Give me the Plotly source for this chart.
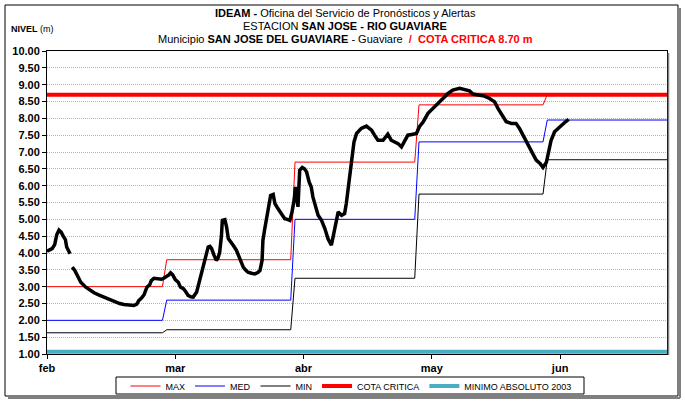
import plotly.graph_objects as go

# Monthly reference levels (m); each level applies from its period's first day
period_start = [0, 28, 58, 87, 117]
level_max = [3.00, 3.80, 6.70, 8.40, 8.70]
level_med = [2.00, 2.60, 5.00, 7.30, 7.95]
level_min = [1.63, 1.72, 3.25, 5.75, 6.77]

cota_critica = 8.70
minimo_absoluto_2003 = 1.07

# Observed water level, x in days counted from 1 February; None = missing reading
nivel_day = [
    0, 0.6, 1.2, 1.8, 2.3, 2.8, 3.3, 3.8, 4.3, 4.6, 5.0, 5.4, 5.6,
    5.9, 6.5, 7.1, 7.9, 9.0, 10, 11, 12.2, 13.3, 14.5, 15.7, 17, 18, 19.2, 20.3,
    21, 21.5, 22.1, 22.7, 23.1, 23.4, 24, 24.4, 25, 25.6, 26.2, 26.8, 27.3, 28,
    28.5, 28.9, 29.4, 30, 30.7, 31.2, 31.9, 32.5, 33, 33.6, 34.2, 35, 35.4, 36.1,
    36.5, 36.9, 37.3, 37.7, 38.1, 38.5, 39, 39.3, 39.6, 40, 40.4, 40.8, 41, 41.6,
    42, 42.4, 43.1, 43.7, 44.3, 45.1, 45.9, 46.4, 47, 47.8, 48.6, 49.3, 49.8,
    50.3, 50.5, 50.9, 51.3, 51.7, 52.3, 52.9, 53.3, 54, 54.8, 55.6, 56.2, 56.8,
    57.3, 57.8, 58.1, 58.4, 58.7, 59.1, 59.7, 60.2, 60.7, 61.3, 61.8, 62.2, 62.9,
    63.4, 64.2, 65, 65.7, 66.5, 66.9, 67.7, 68.1, 68.9, 69.6, 70, 70.6, 71.2,
    71.6, 71.8, 72.4, 73.5, 74.7, 75.9, 76.6, 77.4, 78.6, 79.7, 80.5, 81.3, 82.1,
    82.9, 83.6, 84.4, 85.6, 86.4, 87.1, 88, 89.1, 90.3, 91.4, 92.6, 93.8, 94.9,
    96.5, 97.7, 98.8, 99.6, 100.8, 102.3, 103.5, 104.7, 105.5, 106.2, 107.4,
    108.6, 109.7, 110.5, 111.3, 112.1, 112.9, 113.6, 114.4, 115.3, 116, 116.8,
    117.5, 117.9, 118.7, 119.9, 121, 122,
]
nivel_m = [
    4.05, 4.08, 4.13, 4.25, 4.55, 4.68, 4.62, 4.50, 4.40, 4.18, 4.08, 3.98, None,
    3.58, 3.48, 3.33, 3.13, 2.99, 2.90, 2.82, 2.75, 2.69, 2.62, 2.56, 2.50, 2.47, 2.45, 2.44,
    2.48, 2.59, 2.66, 2.76, 2.90, 2.99, 3.05, 3.18, 3.25, 3.24, 3.24, 3.22, 3.25, 3.30,
    3.35, 3.41, 3.35, 3.21, 3.13, 2.99, 2.94, 2.84, 2.74, 2.70, 2.69, 2.84, 3.04, 3.33,
    3.55, 3.78, 4.00, 4.18, 4.20, 4.13, 3.95, 3.88, 3.78, 3.85, 4.03, 4.52, 4.97, 4.99,
    4.77, 4.43, 4.28, 4.20, 4.08, 3.83, 3.58, 3.50, 3.43, 3.40, 3.38, 3.42, 3.48,
    3.78, 4.38, 4.70, 4.97, 5.32, 5.71, 5.74, 5.47, 5.32, 5.17, 5.02, 5.00, 4.97,
    5.22, 5.57, 5.96, 5.60, 5.37, 6.46, 6.54, 6.50, 6.41, 6.11, 5.96, 5.66, 5.37,
    5.12, 4.97, 4.72, 4.43, 4.23, 4.47, 4.97, 5.22, 5.12, 5.17, 5.47, 6.06, 6.51,
    6.96, 7.30, 7.55, 7.70, 7.77, 7.65, 7.50, 7.35, 7.35, 7.53, 7.35, 7.30, 7.25,
    7.15, 7.30, 7.50, 7.53, 7.55, 7.75, 7.90, 8.15, 8.29, 8.44, 8.59, 8.74, 8.84,
    8.89, 8.86, 8.82, 8.72, 8.69, 8.66, 8.59, 8.49, 8.29, 8.15, 7.90,
    7.85, 7.85, 7.70, 7.50, 7.30, 7.10, 6.96, 6.76, 6.66, 6.54, 6.70,
    7.05, 7.35, 7.60, 7.75, 7.87, 7.97,
]

month_ticks = [0, 30, 60, 90, 120]
month_labels = ["feb", "mar", "abr", "may", "jun"]
last_day = 145

FONT = "Liberation Sans, Arial, sans-serif"

days = list(range(last_day + 1))


def daily_steps(levels):
    out = []
    for d in days:
        k = max(i for i, s in enumerate(period_start) if s <= d)
        out.append(levels[k])
    return out


fig = go.Figure()
fig.add_trace(go.Scatter(x=days, y=daily_steps(level_max), mode="lines", name="MAX",
                         line=dict(color="#FF0000", width=1)))
fig.add_trace(go.Scatter(x=days, y=daily_steps(level_med), mode="lines", name="MED",
                         line=dict(color="#0000FF", width=1)))
fig.add_trace(go.Scatter(x=days, y=daily_steps(level_min), mode="lines", name="MIN",
                         line=dict(color="#000000", width=1)))
fig.add_trace(go.Scatter(x=[0, last_day], y=[cota_critica] * 2, mode="lines",
                         name="COTA CRITICA", line=dict(color="#FF0000", width=4)))
fig.add_trace(go.Scatter(x=[0, last_day], y=[minimo_absoluto_2003] * 2, mode="lines",
                         name="MINIMO ABSOLUTO 2003", line=dict(color="#4BACC6", width=4)))
fig.add_trace(go.Scatter(x=nivel_day, y=nivel_m, mode="lines", name="NIVEL",
                         showlegend=False, connectgaps=False,
                         line=dict(color="#000000", width=3.5)))

# pixel geometry of the plot area
L, R, T, B = 47, 667, 51, 354
W, H = 685, 401


def px(xp):
    return (xp - L) / (R - L)


def py(yp):
    return (B - yp) / (B - T)


title_lines = [
    (13, "<b>IDEAM -</b> Oficina del Servicio de Pronósticos y Alertas"),
    (26, "ESTACION <b>SAN JOSE - RIO GUAVIARE</b>"),
    (39, "Municipio <b>SAN JOSE DEL GUAVIARE</b> - Guaviare  "
         "<span style='color:#FF0000'><b>/  COTA CRITICA 8.70 m</b></span>"),
]
annotations = [
    dict(x=px(345), y=py(yy), xref="paper", yref="paper", text=t, showarrow=False,
         xanchor="center", yanchor="middle",
         font=dict(family=FONT, size=11, color="#000000"))
    for yy, t in title_lines
]
annotations.append(dict(x=px(9), y=py(29), xref="paper", yref="paper",
                        text="<b>NIVEL</b> (m)", showarrow=False, xanchor="left",
                        yanchor="middle", font=dict(family=FONT, size=9, color="#000000")))

shapes = [
    # chart frame with a soft shadow on the right and bottom
    dict(type="rect", xref="paper", yref="paper", x0=px(5), x1=px(678), y0=py(396), y1=py(5),
         line=dict(color="#000000", width=1), layer="below"),
    dict(type="line", xref="paper", yref="paper", x0=px(680), x1=px(680), y0=py(398), y1=py(8),
         line=dict(color="#808080", width=2)),
    dict(type="line", xref="paper", yref="paper", x0=px(8), x1=px(680), y0=py(398), y1=py(398),
         line=dict(color="#808080", width=2)),
    # plot-area shadow on the right edge
    dict(type="line", xref="paper", yref="paper", x0=px(668.5), x1=px(668.5), y0=py(355), y1=py(53),
         line=dict(color="#808080", width=1.5)),
    # legend box
    dict(type="rect", xref="paper", yref="paper", x0=px(116), x1=px(584), y0=py(394), y1=py(377),
         line=dict(color="#000000", width=1), fillcolor="rgba(0,0,0,0)"),
]

fig.update_layout(
    width=W, height=H,
    margin=dict(l=L, r=W - R, t=T, b=H - B, autoexpand=False),
    paper_bgcolor="#FFFFFF", plot_bgcolor="#FFFFFF",
    font=dict(family=FONT, size=10, color="#000000"),
    showlegend=True,
    legend=dict(orientation="h", x=px(351), xanchor="center", y=py(371.5), yanchor="top",
                borderwidth=0, bgcolor="rgba(0,0,0,0)",
                font=dict(family=FONT, size=9, color="#000000"),
                itemwidth=30, tracegroupgap=0),
    annotations=annotations,
    shapes=shapes,
)

fig.update_xaxes(
    range=[0, last_day], tickmode="array", tickvals=month_ticks, ticktext=month_labels,
    showgrid=False, zeroline=False, showline=True, linecolor="#000000", linewidth=1,
    mirror=True, ticks="outside", ticklen=4, tickcolor="#000000",
    tickfont=dict(family=FONT, size=11, color="#000000", weight="bold"),
)
fig.update_yaxes(
    range=[1, 10], tick0=1, dtick=0.5, tickformat=".2f",
    showgrid=True, gridcolor="#B4B4B4", griddash="1px,1px", gridwidth=1,
    zeroline=False, showline=True, linecolor="#000000", linewidth=1, mirror=True,
    ticks="outside", ticklen=4, tickcolor="#000000",
    tickfont=dict(family=FONT, size=11, color="#000000", weight="bold"),
)

fig.write_html("out.html")
